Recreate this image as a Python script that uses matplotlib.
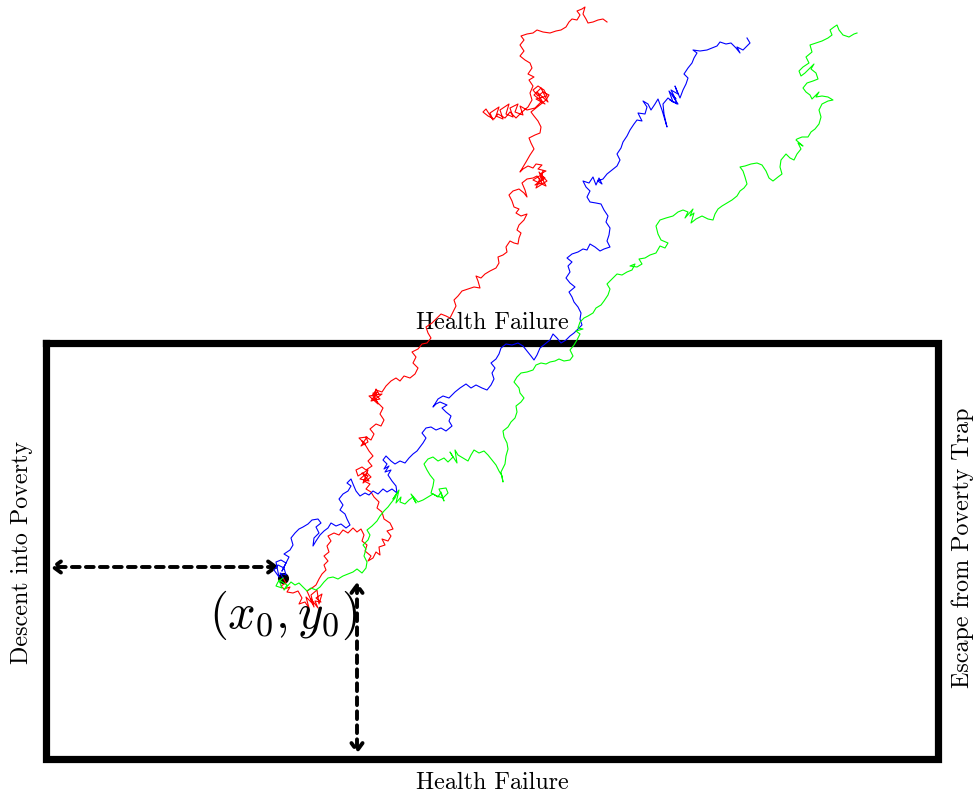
import numpy as np
import matplotlib.pyplot as plt
import matplotlib

matplotlib.rcParams.update({
    'font.family': 'cmr10',
    'mathtext.fontset': 'cm',
    'axes.unicode_minus': False,
})

# boundary box and starting point (canvas units, y grows downward)
box_left, box_right = 46, 938
box_top, box_bottom = 343, 759
start = (283, 578)
vert_arrow_x = 357

red_path = [
    (283, 578), (286, 583), (281, 586), (284, 589), (290, 587), (287, 592), (293, 593), (298, 591),
    (302, 598), (299, 604), (305, 602), (309, 608), (306, 597), (313, 604), (311, 599), (318, 608),
    (315, 601), (321, 602), (316, 598), (322, 594), (319, 604), (317, 590), (311, 595), (314, 607),
    (307, 591), (312, 588), (316, 585), (319, 579), (322, 574), (326, 570), (324, 565), (328, 561),
    (324, 556), (329, 552), (327, 546), (331, 541), (328, 536), (334, 533), (339, 535), (343, 530),
    (348, 533), (353, 528), (357, 532), (361, 529), (364, 535), (362, 541), (367, 545), (365, 551),
    (371, 556), (368, 561), (373, 558), (376, 552), (380, 555), (379, 547), (385, 545), (382, 539),
    (388, 541), (391, 536), (387, 531), (393, 529), (390, 523), (384, 519), (382, 512), (377, 508),
    (379, 502), (374, 497), (371, 492), (366, 489), (370, 484), (364, 481), (368, 476), (362, 473),
    (369, 481), (360, 479), (367, 473), (371, 477), (363, 483), (368, 470), (358, 476), (356, 470),
    (362, 467), (366, 470), (372, 466), (368, 461), (373, 456), (369, 451), (366, 446), (362, 441),
    (365, 444), (359, 438), (367, 437), (361, 446), (368, 442), (366, 437), (371, 440), (374, 434),
    (370, 429), (376, 424), (381, 426), (384, 420), (380, 414), (383, 408), (378, 403), (374, 398),
    (377, 392), (371, 401), (380, 399), (373, 393), (378, 404), (369, 396), (382, 394), (374, 400),
    (376, 389), (379, 394), (372, 396), (376, 390), (382, 392), (386, 386), (391, 381), (396, 378),
    (400, 381), (404, 376), (410, 378), (415, 374), (418, 368), (413, 363), (416, 357), (412, 352),
    (418, 349), (422, 344), (427, 343), (431, 338), (428, 333), (426, 327), (432, 323), (437, 318),
    (441, 314), (446, 316), (450, 318), (453, 312), (456, 306), (454, 300), (458, 296), (462, 291),
    (468, 289), (474, 287), (480, 288), (478, 281), (476, 276), (481, 278), (485, 274), (490, 271),
    (496, 268), (499, 263), (498, 257), (503, 255), (507, 252), (506, 247), (510, 241), (514, 243),
    (518, 244), (519, 238), (521, 233), (517, 230), (519, 225), (524, 220), (527, 214), (521, 216),
    (516, 213), (519, 209), (514, 207), (512, 201), (509, 195), (513, 191), (519, 189), (524, 193),
    (527, 197), (525, 190), (522, 183), (527, 179), (533, 178), (537, 176), (542, 183), (535, 185),
    (544, 178), (539, 172), (546, 186), (533, 180), (541, 175), (547, 181), (536, 188), (543, 171),
    (541, 181), (545, 178), (540, 174), (546, 171), (538, 169), (542, 165), (536, 164), (533, 168),
    (528, 166), (523, 169), (520, 172), (526, 162), (530, 155), (534, 149), (531, 143), (529, 138),
    (535, 135), (540, 133), (541, 127), (538, 121), (534, 116), (531, 112), (536, 108), (541, 104),
    (546, 100), (549, 95), (543, 92), (538, 96), (533, 90), (538, 86), (544, 90), (547, 96),
    (536, 99), (545, 104), (534, 95), (541, 88), (548, 102), (537, 92), (542, 101), (535, 108),
    (527, 110), (520, 106), (523, 115), (515, 112), (518, 104), (510, 108), (513, 117), (506, 114),
    (509, 104), (500, 110), (503, 119), (496, 116), (499, 107), (490, 113), (493, 120), (486, 109),
    (483, 112), (488, 116), (494, 119), (498, 114), (505, 118), (510, 112), (516, 118), (522, 112),
    (528, 107), (532, 100), (530, 93), (533, 86), (529, 80), (534, 77), (528, 74), (532, 68),
    (530, 63), (525, 60), (520, 56), (524, 51), (520, 45), (524, 40), (521, 36), (527, 34),
    (533, 33), (537, 30), (543, 32), (550, 33), (556, 31), (561, 30), (566, 27), (569, 22),
    (572, 19), (577, 20), (580, 15), (577, 11), (582, 9), (585, 7), (583, 14), (586, 19),
    (588, 23), (593, 22), (598, 20), (603, 19), (607, 22),
]

blue_path = [
    (283, 578), (280, 573), (286, 575), (284, 568), (278, 565), (274, 570), (279, 577), (276, 562),
    (281, 560), (286, 563), (282, 571), (289, 557), (284, 554), (290, 550), (293, 545), (291, 538),
    (295, 533), (299, 529), (303, 527), (308, 524), (312, 520), (318, 519), (321, 523), (316, 527),
    (319, 533), (314, 538), (313, 546), (316, 541), (320, 535), (324, 531), (328, 528), (331, 523),
    (336, 526), (341, 524), (346, 528), (350, 525), (347, 519), (345, 514), (340, 510), (343, 505),
    (339, 499), (343, 494), (348, 491), (351, 486), (347, 483), (351, 479), (353, 484), (356, 491),
    (360, 496), (365, 493), (369, 495), (373, 491), (378, 494), (383, 489), (387, 492), (392, 489),
    (397, 493), (396, 486), (392, 481), (388, 475), (391, 470), (385, 472), (389, 466), (384, 469),
    (387, 464), (383, 460), (386, 456), (391, 461), (395, 464), (400, 461), (405, 463), (409, 458),
    (413, 454), (417, 451), (420, 447), (423, 443), (426, 438), (422, 433), (426, 428), (431, 427),
    (436, 430), (441, 428), (446, 431), (452, 426), (449, 421), (451, 416), (446, 412), (442, 408),
    (447, 405), (440, 402), (436, 404), (433, 407), (438, 399), (443, 396), (449, 398), (455, 392),
    (460, 388), (466, 384), (471, 388), (476, 385), (482, 388), (487, 390), (491, 385), (494, 379),
    (492, 373), (495, 368), (491, 363), (496, 359), (499, 354), (501, 348), (506, 344), (512, 345),
    (518, 343), (523, 346), (527, 351), (531, 356), (534, 360), (537, 355), (540, 348), (545, 344),
    (550, 340), (553, 334), (557, 338), (561, 343), (566, 340), (570, 336), (574, 333), (577, 330),
    (582, 325), (580, 319), (581, 313), (578, 307), (574, 302), (572, 297), (569, 292), (575, 287),
    (570, 283), (566, 278), (570, 272), (568, 266), (572, 262), (567, 258), (572, 254), (578, 252),
    (583, 249), (587, 250), (590, 244), (595, 247), (600, 251), (604, 249), (610, 247), (607, 241),
    (609, 235), (610, 228), (606, 222), (608, 216), (604, 210), (601, 204), (596, 203), (590, 202),
    (587, 197), (590, 191), (586, 187), (583, 181), (589, 183), (593, 177), (596, 185), (599, 178),
    (602, 184), (598, 181), (603, 179), (607, 174), (612, 170), (617, 166), (620, 160), (617, 154),
    (621, 148), (623, 142), (627, 136), (630, 130), (634, 124), (637, 120), (642, 121), (638, 113),
    (645, 114), (647, 107), (643, 101), (648, 104), (651, 110), (655, 104), (658, 99), (662, 110),
    (667, 127), (664, 114), (663, 104), (668, 98), (673, 102), (669, 91), (676, 99), (672, 95),
    (678, 104), (670, 100), (677, 104), (674, 96), (671, 90), (678, 94), (675, 86), (680, 98),
    (683, 90), (686, 84), (688, 78), (684, 74), (688, 68), (692, 63), (694, 58), (697, 53),
    (693, 50), (700, 51), (707, 50), (712, 48), (717, 46), (720, 42), (726, 44), (731, 43),
    (736, 48), (740, 53), (737, 47), (743, 50), (746, 47), (750, 43), (747, 38),
]

green_path = [
    (283, 578), (278, 582), (276, 586), (282, 588), (279, 580), (287, 585), (284, 590), (291, 582),
    (295, 585), (299, 583), (303, 587), (307, 591), (311, 588), (316, 590), (320, 587), (324, 582),
    (328, 578), (333, 577), (338, 579), (343, 576), (348, 574), (353, 572), (357, 569), (362, 573),
    (366, 568), (367, 562), (364, 556), (366, 549), (363, 545), (368, 540), (370, 535), (367, 530),
    (372, 526), (377, 521), (380, 516), (384, 511), (388, 507), (391, 503), (395, 498), (397, 493),
    (393, 499), (399, 490), (396, 503), (401, 497), (400, 502), (405, 504), (409, 500), (413, 497),
    (416, 503), (411, 494), (418, 502), (423, 500), (428, 497), (433, 494), (438, 497), (441, 492),
    (444, 501), (439, 489), (446, 488), (448, 493), (443, 498), (437, 496), (431, 493), (433, 486),
    (434, 480), (430, 475), (427, 470), (424, 464), (428, 459), (433, 457), (438, 461), (444, 458),
    (448, 462), (453, 457), (450, 452), (457, 463), (455, 450), (458, 455), (463, 458), (468, 461),
    (471, 455), (474, 450), (479, 453), (484, 451), (488, 455), (492, 460), (496, 465), (499, 471),
    (502, 476), (503, 482), (501, 472), (505, 464), (506, 456), (508, 449), (507, 443), (504, 437),
    (503, 431), (508, 427), (511, 422), (515, 418), (517, 412), (516, 406), (521, 402), (524, 398),
    (520, 393), (519, 388), (514, 382), (517, 377), (521, 373), (527, 372), (533, 370), (536, 365),
    (541, 363), (546, 364), (550, 362), (555, 361), (559, 359), (564, 361), (570, 360), (573, 356),
    (570, 350), (574, 345), (577, 340), (580, 334), (576, 331), (583, 329), (578, 328), (580, 322),
    (584, 318), (588, 316), (593, 313), (596, 308), (601, 305), (604, 301), (608, 295), (610, 289),
    (607, 284), (612, 279), (617, 274), (622, 275), (627, 272), (632, 270), (635, 264), (630, 266),
    (637, 267), (642, 264), (639, 259), (645, 258), (650, 255), (656, 253), (660, 246), (665, 248),
    (668, 243), (661, 240), (658, 234), (656, 226), (660, 220), (666, 218), (673, 216), (678, 212),
    (683, 210), (688, 212), (685, 218), (693, 209), (690, 216), (694, 213), (691, 223), (696, 219),
    (702, 216), (708, 219), (713, 220), (715, 214), (718, 209), (722, 206), (727, 203), (732, 200),
    (737, 196), (740, 191), (744, 188), (747, 184), (745, 177), (743, 171), (740, 167), (745, 166),
    (751, 164), (757, 163), (762, 165), (766, 171), (769, 178), (773, 181), (778, 177), (782, 174),
    (780, 167), (781, 160), (786, 154), (790, 158), (794, 160), (797, 154), (801, 149), (798, 143),
    (803, 146), (796, 140), (797, 139), (802, 137), (808, 137), (811, 132), (815, 129), (819, 124),
    (821, 117), (819, 110), (822, 104), (828, 101), (833, 100), (828, 97), (822, 96), (816, 97),
    (819, 92), (812, 99), (810, 95), (806, 92), (803, 88), (807, 83), (813, 81), (818, 79),
    (816, 73), (811, 69), (814, 64), (808, 70), (805, 73), (801, 76), (799, 71), (803, 67),
    (809, 63), (806, 57), (812, 52), (810, 45), (816, 43), (822, 41), (828, 38), (832, 35),
    (830, 30), (834, 27), (837, 25), (839, 30), (843, 35), (849, 37), (854, 34), (857, 33),
]

fig = plt.figure(figsize=(9.74, 7.96), dpi=100)
ax = fig.add_axes([0, 0, 1, 1])
ax.set_xlim(0, 974)
ax.set_ylim(796, 0)
ax.axis('off')

# thick boundary
ax.plot([box_left, box_right, box_right, box_left, box_left],
        [box_top, box_top, box_bottom, box_bottom, box_top],
        color='black', lw=5.2, solid_joinstyle='miter', zorder=1)

# dashed arrows from the starting point to the walls
arrow_kw = dict(arrowstyle='<->,head_length=0.55,head_width=0.4', color='black',
                lw=2.8, linestyle=(0, (2.0, 1.6)), shrinkA=0, shrinkB=0)
ax.annotate('', xy=(box_left + 4, start[1] - 11), xytext=(start[0] - 4, start[1] - 11),
            arrowprops=arrow_kw, zorder=2)
ax.annotate('', xy=(vert_arrow_x, box_bottom - 5), xytext=(vert_arrow_x, start[1] + 4),
            arrowprops=arrow_kw, zorder=2)

for path, color in [(red_path, '#ff0000'), (blue_path, '#0000ff'), (green_path, '#00ff00')]:
    p = np.array(path)
    ax.plot(p[:, 0], p[:, 1], color=color, lw=0.8, zorder=3)

ax.plot(start[0], start[1], 'o', color='black', ms=7, zorder=2)

mid_x = (box_left + box_right) / 2
ax.text(mid_x, box_top - 20, 'Health Failure',
        ha='center', va='center', fontsize=17.3, zorder=2)
ax.text(mid_x, box_bottom + 24, 'Health Failure',
        ha='center', va='center', fontsize=17.3)
ax.text(22, 552, 'Descent into Poverty', rotation=90,
        ha='center', va='center', fontsize=17.3)
ax.text(963, 548, 'Escape from Poverty Trap', rotation=90,
        ha='center', va='center', fontsize=17.3)
ax.text(start[0], start[1] + 37, r'$(x_0, y_0)$', ha='center', va='center',
        fontsize=35, zorder=4)

fig.savefig('out.png', dpi=100)
